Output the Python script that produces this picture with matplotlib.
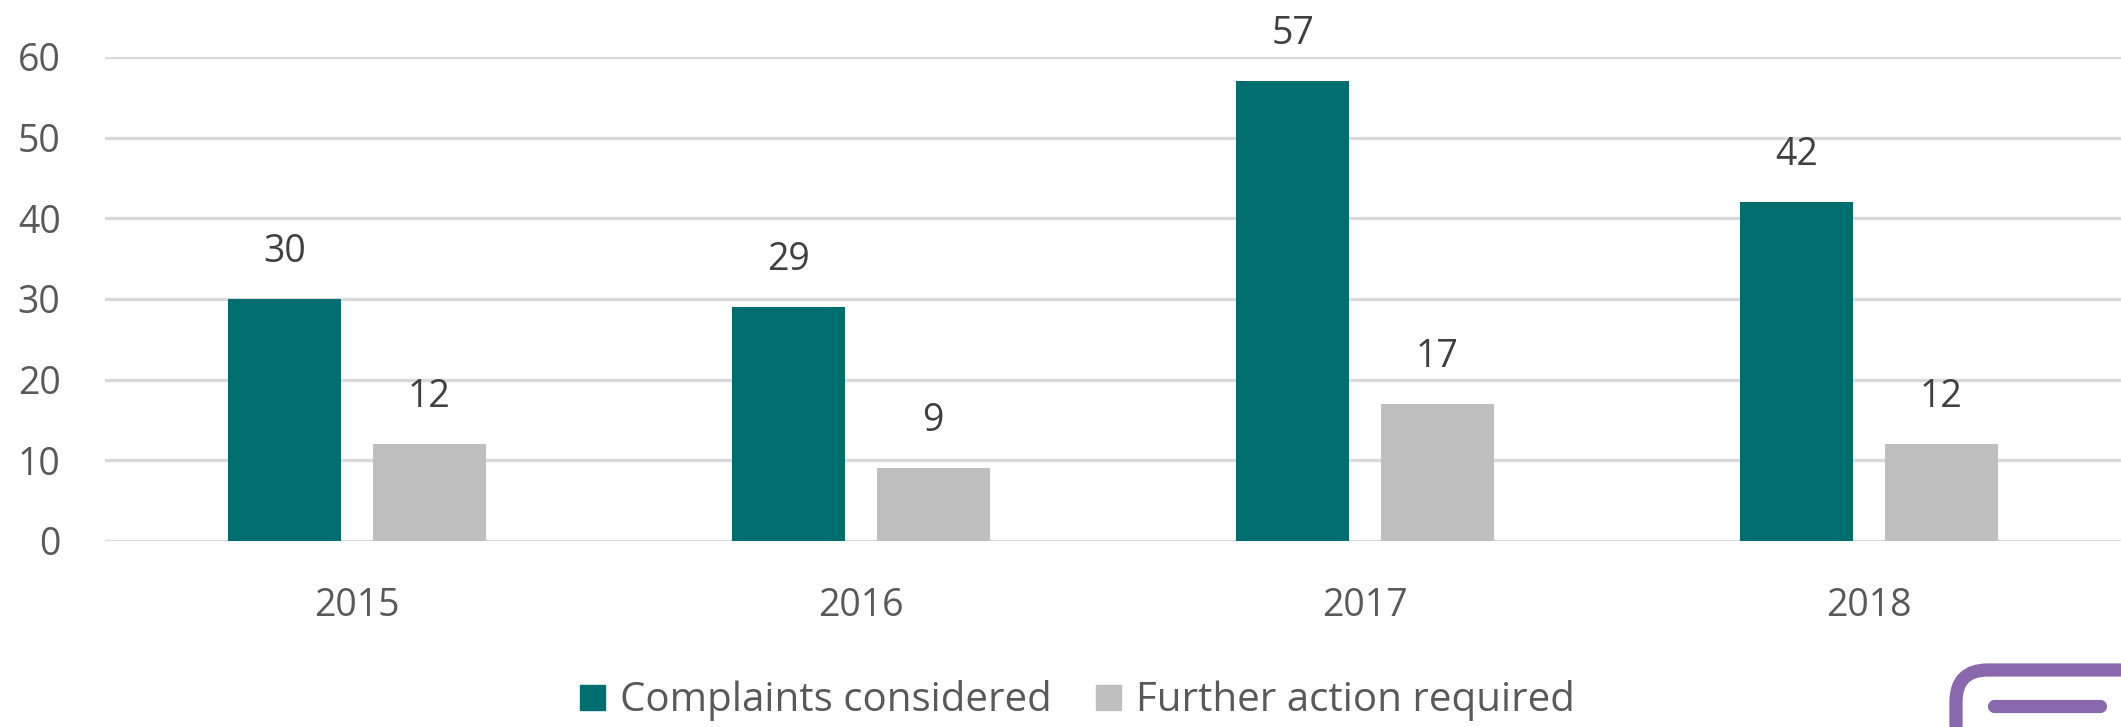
import matplotlib.pyplot as plt
from matplotlib.lines import Line2D
from matplotlib.patches import FancyBboxPatch
import numpy as np

years = ['2015', '2016', '2017', '2018']
complaints = [30, 29, 57, 42]
further_action = [12, 9, 17, 12]
series_names = ['Complaints considered', 'Further action required']

teal = '#006E6E'
grey = '#BFBFBF'
text_col = '#595959'
label_col = '#404040'

plt.rcParams['font.family'] = ['Open Sans', 'DejaVu Sans']

fig = plt.figure(figsize=(21.21, 7.27), dpi=100)
ax = fig.add_axes([0.0495, 0.2559, 0.9505, 0.6657])

x = np.arange(len(years))
w = 0.224
off = 0.143

b1 = ax.bar(x - off, complaints, width=w, color=teal, zorder=3)
b2 = ax.bar(x + off, further_action, width=w, color=grey, zorder=3)

for bars, vals in ((b1, complaints), (b2, further_action)):
    for rect, v in zip(bars, vals):
        ax.annotate(str(v), (rect.get_x() + rect.get_width() / 2, v),
                    xytext=(0, 34), textcoords='offset points',
                    ha='center', va='center', fontsize=27,
                    color=label_col, annotation_clip=False)

ax.set_xlim(-0.5, len(years) - 0.5)
ax.set_ylim(0, 60)
ax.set_yticks(range(0, 61, 10))
ax.set_xticks(x)
ax.set_xticklabels(years)
ax.grid(axis='y', color='#D9D9D9', linewidth=2.4, zorder=0)
ax.set_axisbelow(True)
for s in ax.spines.values():
    s.set_visible(False)
ax.tick_params(axis='y', length=0, pad=32, labelsize=27, labelcolor=text_col)
ax.tick_params(axis='x', length=0, pad=33, labelsize=27, labelcolor=text_col)

handles = [Line2D([], [], marker='s', linestyle='none', markersize=18,
                  color=c) for c in (teal, grey)]
fig.legend(handles, series_names, loc='center', bbox_to_anchor=(0.507, 0.036),
           ncol=2, frameon=False, fontsize=29, labelcolor=text_col,
           handletextpad=0.3, columnspacing=1.0, handlelength=0.8)

# purple icon in the bottom-right corner
icon = FancyBboxPatch((1956 / 2121, -0.2), 0.2, 0.2 + (727 - 670) / 727,
                      boxstyle='round,pad=0,rounding_size=0.015',
                      transform=fig.transFigure, facecolor='white',
                      edgecolor='#8A68AE', linewidth=9.5, mutation_aspect=2.9)
fig.add_artist(icon)
fig.add_artist(Line2D([1994 / 2121, 2100 / 2121], [1 - 706 / 727] * 2,
                      transform=fig.transFigure, color='#8A68AE',
                      linewidth=9.5, solid_capstyle='round'))

fig.savefig('out.png', dpi=100)
